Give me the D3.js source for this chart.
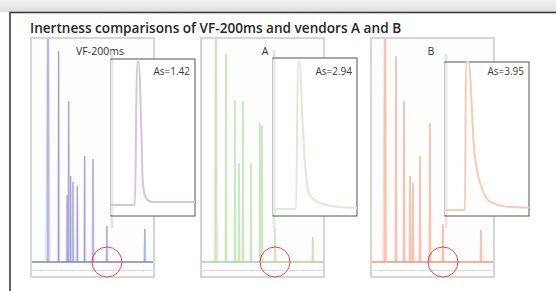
<!DOCTYPE html>
<html>
<head>
<meta charset="utf-8">
<script src="https://cdn.jsdelivr.net/npm/d3@7"></script>
<style>
  body { margin: 0; background: #fff; }
  svg { display: block; font-family: "Open Sans", "DejaVu Sans", sans-serif; }
</style>
</head>
<body>
<script>
// chart values
var titleText = "Inertness comparisons of VF-200ms and vendors A and B";
var columns = ["VF-200ms", "A", "B"];
var asLabels = ["As=1.42", "As=2.94", "As=3.95"];

// main chromatograms: retention time (min) and peak height (% of full scale)
var peakTimesVF = [1.67, 2.72, 3.55, 3.71, 3.9, 4.13, 4.55, 5.28, 6.1, 7.47, 11.2];
var peakHeightsVF = [110, 94.6, 30, 72.2, 38.6, 35.9, 34.1, 47.5, 46.2, 16.1, 14.8];
var peakTimesA = [1.47, 2.46, 3.34, 3.74, 4.13, 4.92, 5.8, 6.0, 7.28, 11.0];
var peakHeightsA = [110, 93.3, 72.2, 44.4, 72.2, 44.4, 62.3, 61, 15.2, 11.2];
var peakTimesB = [1.38, 2.46, 3.25, 3.84, 4.13, 4.82, 5.8, 7.08, 10.82];
var peakHeightsB = [110, 92.4, 72.2, 38.6, 35.4, 47.5, 62.3, 17, 14.3];
// circled (active) peak in each run
var markedTimes = [7.47, 7.28, 7.08];

// inset zoom on the circled peak: time (s) and signal (%)
var insetTimeVF = [0, 7.14, 7.74, 8.33, 8.93, 9.52, 10.42, 12.2, 25];
var insetSignalVF = [2.1, 2.1, 100, 100, 60.3, 15.8, 6.8, 4.1, 4.1];
var insetTimeA = [0, 6.85, 7.44, 8.04, 8.63, 9.23, 10.03, 11.01, 13.99, 18.96, 25];
var insetSignalA = [-0.7, -0.7, 100, 100, 67.1, 39.7, 18, 8.9, 3.4, 0.9, 0];
var insetTimeB = [0, 5.95, 6.25, 7.14, 7.95, 8.42, 9.43, 10.92, 13.39, 18.36, 25];
var insetSignalB = [-1.4, -1.4, 100, 100, 70.5, 47.9, 27.4, 13.7, 4.3, 0.9, 0.2];

var peakTimes = [peakTimesVF, peakTimesA, peakTimesB];
var peakHeights = [peakHeightsVF, peakHeightsA, peakHeightsB];
var insetTimes = [insetTimeVF, insetTimeA, insetTimeB];
var insetSignals = [insetSignalVF, insetSignalA, insetSignalB];

// layout + styles
var svgWidth = 556, svgHeight = 291;
var frameLeft = [31, 201, 371], frameW = 123, frameTop = 38, frameBottom = 277;
var baseY = 262;
var labelOffset = [69, 64, 60];
var insetLeft = [111, 273, 445], insetTop = [59, 58, 62], insetW = 84, insetBottom = 216;
var core = ["#8282c2", "#a9d296", "#ec9a7d"];
var halo = ["#cfcfeb", "#dfeed6", "#f9d4c4"];
var insetColor = ["#d6c5d6", "#dcebd4", "#f8cab5"];

var svg = d3.select("body").append("svg").attr("width", svgWidth).attr("height", svgHeight);

var defs = svg.append("defs");
var grad = defs.append("linearGradient").attr("id", "topShade")
    .attr("x1", 0).attr("y1", 0).attr("x2", 0).attr("y2", 1);
grad.append("stop").attr("offset", "0%").attr("stop-color", "#f3f3f3");
grad.append("stop").attr("offset", "100%").attr("stop-color", "#dedede");
defs.append("filter").attr("id", "soft")
  .append("feGaussianBlur").attr("stdDeviation", 0.45);

// page shading above the boxed figure
svg.append("rect").attr("x", 0).attr("y", 0).attr("width", svgWidth).attr("height", 12)
    .attr("fill", "url(#topShade)");

// outer box
svg.append("rect").attr("x", 10).attr("y", 12.5).attr("width", 600).attr("height", 400)
    .attr("fill", "#fff").attr("stroke", "#3c3c3c").attr("stroke-width", 1.6);

svg.append("text")
    .attr("x", 30).attr("y", 33)
    .attr("font-size", "13.6px").attr("font-weight", 600).attr("fill", "#262626")
    .text(titleText);

columns.forEach(function(name, i) {
  var g = svg.append("g");
  var x = d3.scaleLinear().domain([0, 12]).range([frameLeft[i], frameLeft[i] + 122]);
  var y = d3.scaleLinear().domain([0, 100]).range([baseY, frameTop + 1]);

  defs.append("clipPath").attr("id", "clip" + i)
    .append("rect").attr("x", frameLeft[i]).attr("y", frameTop + 1)
    .attr("width", frameW).attr("height", frameBottom - frameTop);

  // faint plot background
  g.append("rect").attr("x", frameLeft[i]).attr("y", frameTop)
    .attr("width", frameW).attr("height", frameBottom - frameTop)
    .attr("fill", "#fdfdfe");

  // time axis under the trace (no labels)
  g.append("g")
    .attr("transform", "translate(0," + (frameBottom - 7) + ")")
    .call(d3.axisBottom(x).ticks(12).tickSize(2).tickFormat(""))
    .call(function(a) {
      a.selectAll("path, line").attr("stroke", "#dcdcdc");
    });

  var peaks = peakTimes[i].map(function(t, k) { return {t: t, h: peakHeights[i][k]}; });
  var trace = g.append("g").attr("clip-path", "url(#clip" + i + ")")
    .append("g").attr("filter", "url(#soft)");

  // halo around each spike
  trace.selectAll(".halo").data(peaks).enter().append("path")
    .attr("d", function(d) {
      var w = d.h > 100 ? 2.6 : 1.7;
      return "M" + (x(d.t) - w) + "," + y(0) + "L" + (x(d.t) - w * 0.5) + "," + y(d.h) +
             "L" + (x(d.t) + w * 0.5) + "," + y(d.h) + "L" + (x(d.t) + w) + "," + y(0) + "Z";
    })
    .attr("fill", halo[i]).attr("opacity", 0.85);

  trace.selectAll(".spike").data(peaks).enter().append("line")
    .attr("x1", function(d) { return x(d.t); }).attr("x2", function(d) { return x(d.t); })
    .attr("y1", y(0)).attr("y2", function(d) { return y(d.h); })
    .attr("stroke", core[i]).attr("stroke-width", 1).attr("opacity", 0.7);

  // baseline
  trace.append("line").attr("x1", frameLeft[i] + 1).attr("x2", frameLeft[i] + frameW - 1)
    .attr("y1", y(0)).attr("y2", y(0))
    .attr("stroke", core[i]).attr("stroke-width", 1.8).attr("opacity", 0.75);

  // panel frame
  g.append("rect").attr("x", frameLeft[i]).attr("y", frameTop)
    .attr("width", frameW).attr("height", frameBottom - frameTop)
    .attr("fill", "none").attr("stroke", "#d6d6d6").attr("stroke-width", 2);

  g.append("text")
    .attr("x", frameLeft[i] + labelOffset[i]).attr("y", 55)
    .attr("text-anchor", "middle").attr("font-size", "10.5px").attr("fill", "#333")
    .text(name);

  // circled peak
  g.append("circle")
    .attr("cx", x(markedTimes[i])).attr("cy", y(0)).attr("r", 15)
    .attr("fill", "none").attr("stroke", "#e8474b").attr("stroke-width", 1);

  // inset
  var ix = d3.scaleLinear().domain([0, 25]).range([insetLeft[i], insetLeft[i] + insetW]);
  var iy = d3.scaleLinear().domain([0, 100]).range([208, 62]);
  var pts = insetTimes[i].map(function(t, k) { return [t, insetSignals[i][k]]; });
  var apex = pts.reduce(function(a, b) { return b[1] >= a[1] ? a : b; });

  g.append("line")
    .attr("x1", ix(apex[0]) + 1).attr("x2", ix(apex[0]) + 1)
    .attr("y1", insetTop[i] - 8).attr("y2", insetBottom + 12)
    .attr("stroke", "#e6e6e6").attr("stroke-width", 3);

  g.append("rect").attr("x", insetLeft[i]).attr("y", insetTop[i])
    .attr("width", insetW).attr("height", insetBottom - insetTop[i])
    .attr("fill", "#fff").attr("stroke", "#555").attr("stroke-width", 1);

  g.append("line")
    .attr("x1", ix(apex[0]) + 1).attr("x2", ix(apex[0]) + 1)
    .attr("y1", insetTop[i] + 1).attr("y2", insetBottom - 1)
    .attr("stroke", "#e9e9e9").attr("stroke-width", 3);

  var line = d3.line()
    .x(function(d) { return ix(d[0]); })
    .y(function(d) { return iy(d[1]); })
    .curve(d3.curveMonotoneX);

  g.append("path").datum(pts)
    .attr("d", line)
    .attr("fill", "none").attr("stroke", insetColor[i]).attr("stroke-width", 2);

  g.append("text")
    .attr("x", insetLeft[i] + insetW - 5).attr("y", 75)
    .attr("text-anchor", "end").attr("font-size", "10px").attr("fill", "#3a3a3a")
    .text(asLabels[i]);
});
</script>
</body>
</html>
